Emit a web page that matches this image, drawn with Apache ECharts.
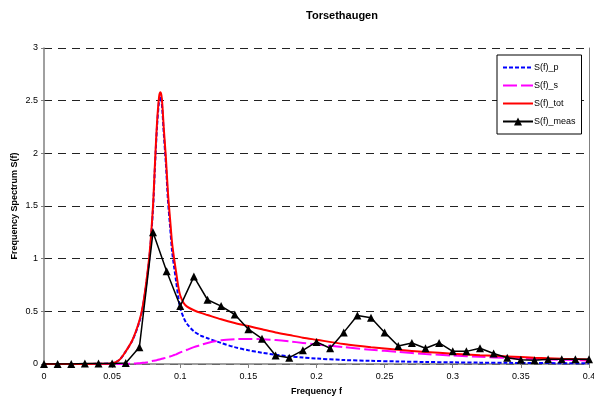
<!DOCTYPE html>
<html>
<head>
<meta charset="utf-8">
<script src="https://cdn.jsdelivr.net/npm/echarts@6/dist/echarts.min.js"></script>
<style>html,body{margin:0;padding:0;background:#fff}#c{width:594px;height:402px}</style>
</head>
<body>
<div id="c"></div>
<script>
// Theoretical spectra
const freqTheory = [0,0.02,0.04,0.05,0.055,0.06,0.065,0.07,0.0725,0.075,0.0775,0.08,0.0815,0.083,0.0845,0.0855,0.0865,0.088,0.0895,0.091,0.0925,0.094,0.0955,0.097,0.0985,0.1,0.1025,0.105,0.11,0.115,0.12,0.13,0.14,0.15,0.16,0.17,0.18,0.19,0.2,0.22,0.24,0.26,0.28,0.3,0.32,0.34,0.36,0.38,0.4];
const sTot = [0,0,0.002,0.008,0.035,0.12,0.23,0.41,0.55,0.77,1.05,1.5,1.92,2.3,2.54,2.58,2.52,2.22,1.95,1.62,1.38,1.15,1.0,0.87,0.74,0.65,0.58,0.545,0.51,0.485,0.465,0.425,0.39,0.36,0.33,0.3,0.275,0.25,0.23,0.19,0.16,0.135,0.115,0.098,0.084,0.072,0.06,0.05,0.042];
const sP = [0,0,0.002,0.008,0.035,0.12,0.227,0.4,0.54,0.755,1.03,1.47,1.89,2.26,2.5,2.54,2.47,2.17,1.89,1.55,1.31,1.07,0.92,0.78,0.64,0.53,0.44,0.38,0.31,0.27,0.245,0.2,0.16,0.13,0.107,0.088,0.073,0.061,0.052,0.038,0.03,0.024,0.019,0.016,0.013,0.011,0.009,0.008,0.007];
const sS = [0,0,0,0,0,0.001,0.003,0.008,0.011,0.015,0.021,0.03,0.033,0.038,0.043,0.046,0.049,0.054,0.06,0.066,0.071,0.077,0.085,0.092,0.1,0.11,0.122,0.135,0.16,0.18,0.2,0.225,0.235,0.238,0.235,0.227,0.215,0.2,0.185,0.16,0.135,0.115,0.095,0.08,0.068,0.058,0.048,0.04,0.033];
// Measured spectrum
const freqMeas = [0,0.01,0.02,0.03,0.04,0.05,0.06,0.07,0.08,0.09,0.1,0.11,0.12,0.13,0.14,0.15,0.16,0.17,0.18,0.19,0.2,0.21,0.22,0.23,0.24,0.25,0.26,0.27,0.28,0.29,0.3,0.31,0.32,0.33,0.34,0.35,0.36,0.37,0.38,0.39,0.4];
const sMeas = [0,0,0,0.005,0.005,0.005,0.01,0.16,1.25,0.88,0.55,0.83,0.61,0.55,0.47,0.33,0.24,0.08,0.06,0.13,0.21,0.15,0.30,0.46,0.44,0.30,0.17,0.20,0.15,0.20,0.12,0.12,0.15,0.10,0.06,0.04,0.035,0.045,0.045,0.045,0.045];
const yTicks = [0,0.5,1,1.5,2,2.5,3];

const zip = (xs, ys) => xs.map((x, i) => [x, ys[i]]);
const font = 'Liberation Sans, Arial, sans-serif';
const chart = echarts.init(document.getElementById('c'), null, {renderer: 'canvas'});
const noSym = {opacity: 0};
chart.setOption({
  animation: false,
  backgroundColor: '#fff',
  title: {text: 'Torsethaugen', left: 337, top: 5, textAlign: 'center',
    textStyle: {fontFamily: font, fontSize: 11, fontWeight: 'bold', color: '#000'}},
  legend: {
    orient: 'vertical', left: 497, top: 55, width: 84,
    backgroundColor: '#fff', borderColor: '#000', borderWidth: 1,
    padding: [8, 6, 8, 5], itemGap: 9, itemWidth: 30, itemHeight: 10,
    textStyle: {fontFamily: font, fontSize: 9, color: '#000', padding: [0, 0, 0, -4]},
    data: [
      {name: 'S(f)_p', itemStyle: noSym},
      {name: 'S(f)_s', itemStyle: noSym},
      {name: 'S(f)_tot', itemStyle: noSym},
      {name: 'S(f)_meas'}
    ]
  },
  grid: {left: 44, right: 5, top: 48, bottom: 38, containLabel: false, outerBoundsMode: 'none'},
  xAxis: {
    type: 'value', min: 0, max: 0.4, interval: 0.05,
    name: 'Frequency f', nameLocation: 'middle', nameGap: 23, nameMoveOverlap: false,
    nameTextStyle: {fontFamily: font, fontSize: 9, fontWeight: 'bold', color: '#000'},
    axisLine: {lineStyle: {color: '#808080', width: 1.5}},
    axisTick: {show: true, length: 4, lineStyle: {color: '#808080'}},
    axisLabel: {fontFamily: font, fontSize: 9, color: '#000', margin: 8},
    splitLine: {show: false}
  },
  yAxis: [{
    type: 'value', min: 0, max: 3, interval: 0.5,
    name: 'Frequency Spectrum S(f)', nameLocation: 'middle', nameGap: 25, nameMoveOverlap: false,
    nameTextStyle: {fontFamily: font, fontSize: 9, fontWeight: 'bold', color: '#000'},
    axisLine: {show: true, lineStyle: {color: '#808080', width: 1.5}},
    axisTick: {show: true, length: 3, lineStyle: {color: '#808080'}},
    axisLabel: {fontFamily: font, fontSize: 9, color: '#000', margin: 6,
      formatter: v => yTicks.includes(v) ? String(v) : ''},
    splitLine: {show: true, lineStyle: {color: '#222', type: [8, 6], width: 1}}
  }, {
    type: 'value', min: 0, max: 3, position: 'right',
    axisLine: {show: true, lineStyle: {color: '#808080', width: 1}},
    axisTick: {show: false}, axisLabel: {show: false}, splitLine: {show: false}
  }],
  series: [
    {name: 'S(f)_p', type: 'line', data: zip(freqTheory, sP), symbol: 'none', smooth: 0.3,
      itemStyle: {color: '#0000ff'}, lineStyle: {color: '#0000ff', width: 2, type: [4, 2]}, z: 2},
    {name: 'S(f)_s', type: 'line', data: zip(freqTheory, sS), symbol: 'none', smooth: 0.3,
      itemStyle: {color: '#ff00ff'}, lineStyle: {color: '#ff00ff', width: 2, type: [14, 4]}, z: 3},
    {name: 'S(f)_tot', type: 'line', data: zip(freqTheory, sTot), symbol: 'none', smooth: 0.3,
      itemStyle: {color: '#ff0000'}, lineStyle: {color: '#ff0000', width: 2}, z: 4},
    {name: 'S(f)_meas', type: 'line', data: zip(freqMeas, sMeas), symbol: 'triangle', symbolSize: 8,
      itemStyle: {color: '#000'}, lineStyle: {color: '#000', width: 1.5}, z: 5}
  ]
});
</script>
</body>
</html>
